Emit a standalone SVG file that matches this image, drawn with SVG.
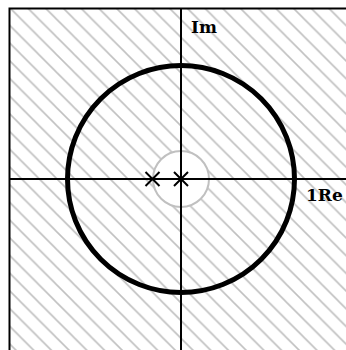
<svg xmlns="http://www.w3.org/2000/svg" width="346" height="350" viewBox="0 0 346 350">
  <defs>
    <pattern id="hatch" patternUnits="userSpaceOnUse" x="2" y="0" width="17.7" height="17.7">
      <line x1="-1" y1="-1" x2="18.7" y2="18.7" stroke="#c0c0c0" stroke-width="1.6"/>
      <line x1="-1" y1="16.7" x2="1" y2="18.7" stroke="#c0c0c0" stroke-width="1.6"/>
      <line x1="16.7" y1="-1" x2="18.7" y2="1" stroke="#c0c0c0" stroke-width="1.6"/>
    </pattern>
    <style>
      .axis { stroke: #000; stroke-width: 2; fill: none; }
      .cross { stroke: #000; stroke-width: 2; }
      .lbl { font-family: "DejaVu Serif", serif; font-weight: bold; font-size: 17px; fill: #000; }
    </style>
  </defs>
  <rect x="0" y="0" width="346" height="350" fill="#fff"/>
  <g id="region">
    <rect x="10" y="9" width="340" height="345" fill="url(#hatch)"/>
    <circle cx="181" cy="179" r="28" fill="#fff" stroke="#c0c0c0" stroke-width="2"/>
  </g>
  <g id="frame">
    <path d="M9.5 352 V8.5 H348" class="axis" stroke-width="2.2"/>
  </g>
  <g id="axes">
    <line x1="10" y1="179" x2="346" y2="179" class="axis"/>
    <line x1="181" y1="9" x2="181" y2="350" class="axis"/>
  </g>
  <g id="unit-circle">
    <circle cx="181" cy="179" r="113.5" fill="none" stroke="#000" stroke-width="5"/>
  </g>
  <g id="poles">
    <path class="cross" d="M145.5 172 L159.5 186 M159.5 172 L145.5 186"/>
    <path class="cross" d="M174 172 L188 186 M188 172 L174 186"/>
  </g>
  <g id="labels">
    <text class="lbl" x="191" y="33">Im</text>
    <text class="lbl" x="306" y="201">1Re</text>
  </g>
</svg>
